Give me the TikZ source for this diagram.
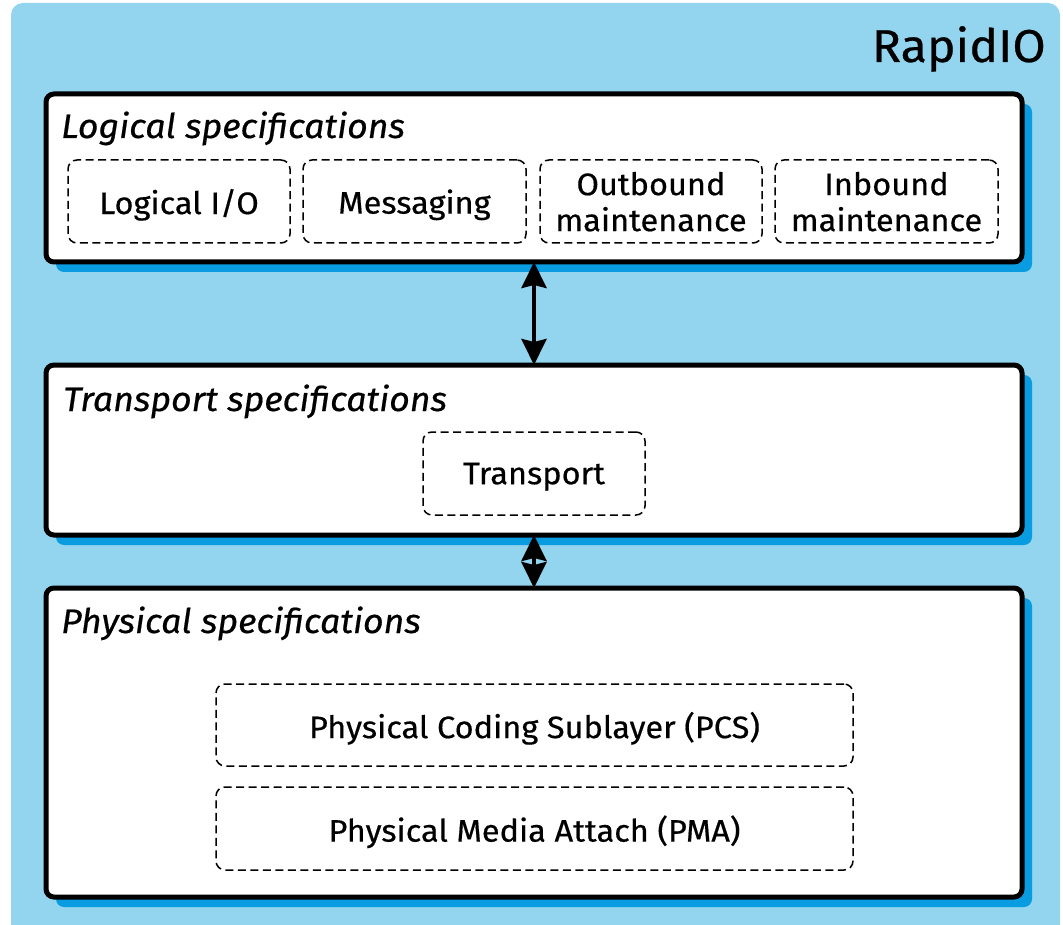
\documentclass[tikz,border=0pt]{standalone}
\usepackage{fontspec}
\setmainfont[FakeStretch=1.05, FakeBold=0.5]{Fira Sans}
\usetikzlibrary{arrows.meta,shadows}
\definecolor{panelblue}{RGB}{147,212,238}
\definecolor{shadeblue}{RGB}{10,156,224}
\tikzset{
  layer/.style={draw=black, line width=5pt, fill=white, rounded corners=8pt,
    outer sep=0pt, inner sep=0pt,
    drop shadow={shadow xshift=10pt, shadow yshift=-10pt, fill=shadeblue, opacity=1}},
  part/.style={draw=black, line width=1.5pt, dash pattern=on 8pt off 4.5pt,
    rounded corners=9pt, fill=white, align=center, font=\fontsize{31}{36}\selectfont,
    inner sep=0pt, text depth=0pt},
  heading/.style={anchor=base west, inner sep=0pt, font=\fontsize{34}{40}\selectfont\itshape},
  dbl/.style={line width=4pt, {Stealth[length=26pt,width=25pt,inset=3pt]}-{Stealth[length=26pt,width=25pt,inset=3pt]}}
}
\begin{document}
\begin{tikzpicture}[x=1pt,y=-1pt]
\useasboundingbox (0,0) rectangle (1063,925);
\clip (0,0) rectangle (1063,925);
% background panel
\fill[panelblue, rounded corners=12pt] (11,3) rectangle (1060,960);
\node[anchor=base east, inner sep=0pt, font=\fontsize{46}{52}\selectfont] (title) at (1046,62) {RapidIO};

% layers
\node[layer, minimum width=976pt, minimum height=168pt] (logical) at (534,178) {};
\node[layer, minimum width=976pt, minimum height=170pt] (transport) at (534,450) {};
\node[layer, minimum width=976pt, minimum height=309pt] (physical) at (534,742.5) {};

\node[heading] (lh) at (61,138) {Logical specifications};
\node[heading] (th) at (63,411) {Transport specifications};
\node[heading] (ph) at (61,633) {Physical specifications};

% logical parts
\node[part, minimum width=222pt, minimum height=83pt] (lio) at (179,201.5) {Logical I/O};
\node[part, minimum width=223pt, minimum height=83pt] (msg) at (414.5,201.5) {Messaging};
\node[part, minimum width=222pt, minimum height=83pt] (outm) at (651,201.5) {Outbound\\maintenance};
\node[part, minimum width=223pt, minimum height=83pt] (inm) at (886.5,201.5) {Inbound\\maintenance};

% transport part
\node[part, minimum width=222pt, minimum height=83pt] (trn) at (534,473.5) {Transport};

% physical parts
\node[part, minimum width=637pt, minimum height=82pt] (pcs) at (534.5,725) {Physical Coding Sublayer (PCS)};
\node[part, minimum width=637pt, minimum height=83pt] (pma) at (534.5,828.5) {Physical Media Attach (PMA)};

% links between layers
\draw[dbl] (logical.south) -- (transport.north);
\draw[dbl] (transport.south) -- (physical.north);
\end{tikzpicture}
\end{document}
